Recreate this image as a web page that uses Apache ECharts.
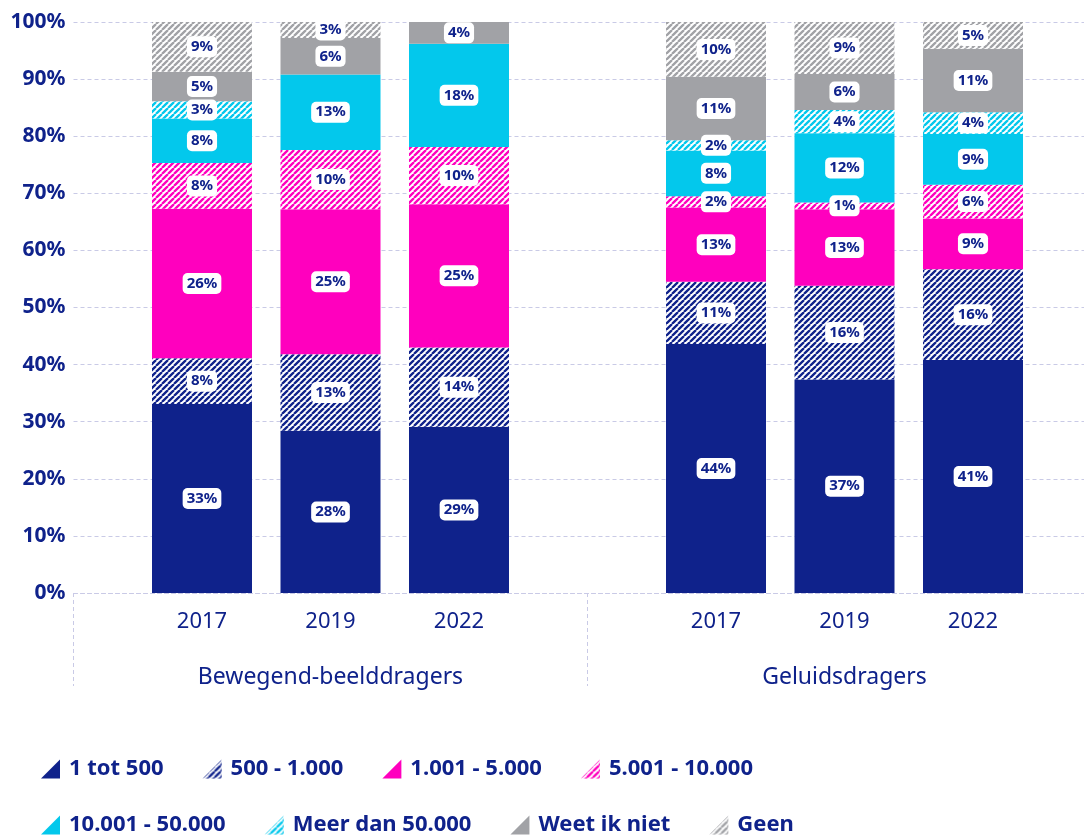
<!DOCTYPE html>
<html>
<head>
<meta charset="utf-8">
<script src="https://cdn.jsdelivr.net/npm/echarts@6/dist/echarts.min.js"></script>
<style>
  html, body { margin: 0; padding: 0; background: #fff; }
  #chart { width: 1084px; height: 836px; }
</style>
</head>
<body>
<div id="chart"></div>
<script>
// categories on the bar axis: empty slots pad the two groups
const years = ['', '2017', '2019', '2022', '', '2017', '2019', '2022', ''];
const groups = ['Bewegend-beelddragers', 'Geluidsdragers'];

// share (%) per segment, bottom to top
const tot500 = ['-', 33.1, 28.4, 29.1, '-', 43.6, 37.4, 40.8, '-'];
const tot1000 = ['-', 8.0, 13.4, 13.9, '-', 10.9, 16.4, 15.9, '-'];
const tot5000 = ['-', 26.2, 25.4, 25.1, '-', 13.0, 13.4, 8.9, '-'];
const tot10000 = ['-', 8.0, 10.4, 10.0, '-', 2.0, 1.2, 5.9, '-'];
const tot50000 = ['-', 7.8, 13.2, 18.1, '-', 8.0, 12.1, 8.9, '-'];
const meer50000 = ['-', 3.0, '-', '-', '-', 1.8, 4.1, 3.8, '-'];
const weetNiet = ['-', 5.2, 6.4, 3.8, '-', 11.1, 6.3, 11.1, '-'];
const geen = ['-', 8.7, 2.8, '-', '-', 9.6, 9.1, 4.7, '-'];

const navy = '#0F228B';
const pink = '#FF00BE';
const cyan = '#03C8EC';
const gray = '#A1A2A6';
const gridColor = '#C9CAE6';
const font = 'Noto Sans';

// diagonal stripes (///) on white
function hatch(color) {
  const p = 6;
  const c = document.createElement('canvas');
  c.width = c.height = p;
  const ctx = c.getContext('2d');
  ctx.fillStyle = '#fff';
  ctx.fillRect(0, 0, p, p);
  ctx.strokeStyle = color;
  ctx.lineWidth = 2.3;
  ctx.beginPath();
  for (let k = -p; k <= p; k += p) {
    ctx.moveTo(k, p);
    ctx.lineTo(k + p, 0);
  }
  ctx.stroke();
  return { image: c, repeat: 'repeat' };
}

function makeSeries(name, data, color) {
  return {
    name: name,
    type: 'bar',
    stack: 'total',
    barWidth: 100,
    data: data,
    itemStyle: { color: color },
    emphasis: { disabled: true },
    label: {
      show: true,
      position: 'inside',
      formatter: p => Math.round(p.value) + '%',
      color: navy,
      fontFamily: font,
      fontSize: 15,
      fontWeight: 'bold',
      lineHeight: 17,
      backgroundColor: '#fff',
      borderRadius: 5,
      padding: [2, 4]
    }
  };
}

const chart = echarts.init(document.getElementById('chart'));

const legendText = {
  color: navy,
  fontFamily: font,
  fontSize: 22,
  fontWeight: 'bold',
  padding: [0, 0, 0, 4]
};
const triangle = 'path://M19,0 L19,19 L0,19 Z';

chart.setOption({
  animation: false,
  textStyle: { fontFamily: font },
  grid: {
    left: 73.5,
    right: -17.5,
    top: 22,
    bottom: 243,
    containLabel: false,
    outerBoundsMode: 'none'
  },
  legend: [
    {
      data: ['1 tot 500', '500 - 1.000', '1.001 - 5.000', '5.001 - 10.000'],
      left: 41,
      top: 758,
      padding: 0,
      itemWidth: 19,
      itemHeight: 19,
      itemGap: 39,
      icon: triangle,
      selectedMode: false,
      textStyle: legendText
    },
    {
      data: ['10.001 - 50.000', 'Meer dan 50.000', 'Weet ik niet', 'Geen'],
      left: 41,
      top: 814,
      padding: 0,
      itemWidth: 19,
      itemHeight: 19,
      itemGap: 39,
      icon: triangle,
      selectedMode: false,
      textStyle: legendText
    }
  ],
  xAxis: [
    {
      type: 'category',
      data: years,
      boundaryGap: false,
      axisLine: { show: true, lineStyle: { color: gridColor, type: [4, 3], width: 1 } },
      axisTick: { show: false },
      axisLabel: {
        interval: 0,
        margin: 18,
        color: navy,
        fontFamily: font,
        fontSize: 22
      },
      splitLine: { show: false }
    },
    {
      type: 'category',
      data: groups,
      position: 'bottom',
      boundaryGap: true,
      axisLine: { show: false },
      axisTick: {
        show: true,
        interval: 0,
        length: 93,
        lineStyle: { color: gridColor, type: [4, 3], width: 1 }
      },
      axisLabel: {
        interval: 0,
        margin: 73,
        color: navy,
        fontFamily: font,
        fontSize: 23
      },
      splitLine: { show: false }
    }
  ],
  yAxis: {
    type: 'value',
    min: 0,
    max: 100,
    interval: 10,
    axisLine: { show: false },
    axisTick: { show: false },
    axisLabel: {
      formatter: '{value}%',
      margin: 8,
      color: navy,
      fontFamily: font,
      fontSize: 21,
      fontWeight: 'bold'
    },
    splitLine: { lineStyle: { color: gridColor, type: [4, 3], width: 1 } }
  },
  series: [
    makeSeries('1 tot 500', tot500, navy),
    makeSeries('500 - 1.000', tot1000, hatch(navy)),
    makeSeries('1.001 - 5.000', tot5000, pink),
    makeSeries('5.001 - 10.000', tot10000, hatch(pink)),
    makeSeries('10.001 - 50.000', tot50000, cyan),
    makeSeries('Meer dan 50.000', meer50000, hatch(cyan)),
    makeSeries('Weet ik niet', weetNiet, gray),
    makeSeries('Geen', geen, hatch(gray))
  ]
});
</script>
</body>
</html>
